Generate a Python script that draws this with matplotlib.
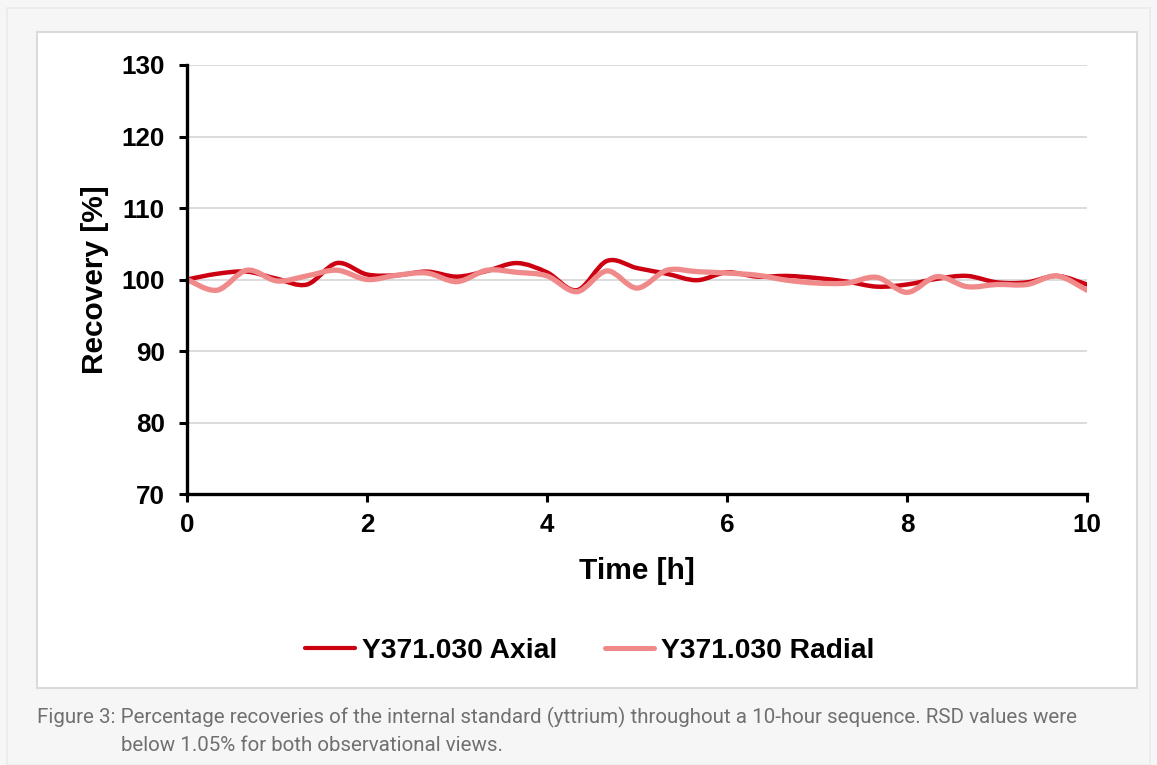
import numpy as np
import matplotlib
matplotlib.use("Agg")
import matplotlib.pyplot as plt
from matplotlib.path import Path
from matplotlib.patches import PathPatch, Rectangle
from matplotlib.lines import Line2D

# ---- data ----
time_h = [0, 1/3, 2/3, 1, 4/3, 5/3, 2, 7/3, 8/3, 3, 10/3, 11/3, 4, 13/3, 14/3, 5,
          16/3, 17/3, 6, 19/3, 20/3, 7, 22/3, 23/3, 8, 25/3, 26/3, 9, 28/3, 29/3, 10]
axial = [100.0, 100.8, 101.1, 100.1, 99.3, 102.3, 100.7, 100.6, 101.1, 100.4, 101.2,
         102.3, 101.0, 98.5, 102.6, 101.6, 100.8, 99.9, 101.0, 100.4, 100.5, 100.2,
         99.7, 99.0, 99.3, 100.1, 100.5, 99.6, 99.6, 100.5, 99.3]
radial = [100.0, 98.5, 101.3, 99.8, 100.5, 101.3, 100.0, 100.6, 100.9, 99.7, 101.3,
          101.0, 100.5, 98.3, 101.2, 98.8, 101.3, 101.1, 100.9, 100.6, 99.9, 99.5,
          99.5, 100.3, 98.2, 100.4, 99.0, 99.3, 99.3, 100.5, 98.5]
series_names = ["Y371.030 Axial", "Y371.030 Radial"]
x_ticks = [0, 2, 4, 6, 8, 10]
y_ticks = [70, 80, 90, 100, 110, 120, 130]
caption_lines = ["Figure 3: Percentage recoveries of the internal standard (yttrium) throughout a 10-hour sequence. RSD values were",
                 "below 1.05% for both observational views."]

AX_COL = "#cc0011"
RAD_COL = "#f08a8a"


def smooth_path(x, y):
    """Excel-like smoothed line: cubic Bezier segments through the data points."""
    x = np.asarray(x, float)
    y = np.asarray(y, float)
    n = len(x)
    verts = [(x[0], y[0])]
    codes = [Path.MOVETO]
    for i in range(n - 1):
        p0 = np.array([x[max(i - 1, 0)], y[max(i - 1, 0)]])
        p1 = np.array([x[i], y[i]])
        p2 = np.array([x[i + 1], y[i + 1]])
        p3 = np.array([x[min(i + 2, n - 1)], y[min(i + 2, n - 1)]])
        c1 = p1 + (p2 - p0) / 6.0
        c2 = p2 - (p3 - p1) / 6.0
        verts += [tuple(c1), tuple(c2), tuple(p2)]
        codes += [Path.CURVE4] * 3
    return Path(verts, codes)


W, H = 1157, 765
fig = plt.figure(figsize=(W / 100, H / 100), dpi=100)
fig.patch.set_facecolor("#f6f6f6")

# outer and inner boxes
fig.patches.append(Rectangle((7 / W, 0), 1143 / W, 1 - 8 / H, transform=fig.transFigure,
                             facecolor="#f6f6f6", edgecolor="#ebebeb", lw=1.2, zorder=-10))
fig.patches.append(Rectangle((37 / W, 1 - 688 / H), 1100 / W, 656 / H, transform=fig.transFigure,
                             facecolor="white", edgecolor="#dadada", lw=1.5, zorder=-9))

ax = fig.add_axes([187 / W, 1 - 494 / H, 900 / W, 429 / H])
ax.set_zorder(2)
ax.set_facecolor("none")
ax.set_xlim(0, 10)
ax.set_ylim(70, 130)
ax.set_xticks(x_ticks)
ax.set_yticks(y_ticks)
ax.set_xticklabels([str(v) for v in x_ticks])
ax.set_yticklabels([str(v) for v in y_ticks])

for v in y_ticks[1:]:
    ax.axhline(v, color="#d9d9d9", lw=1.3, zorder=1)

for s in ["top", "right"]:
    ax.spines[s].set_visible(False)
for s in ["left", "bottom"]:
    ax.spines[s].set_linewidth(2.4)
    ax.spines[s].set_color("black")
    ax.spines[s].set_zorder(4)

font = "Liberation Sans"
ax.tick_params(axis="both", direction="out", length=6, width=2.2, color="black")
ax.tick_params(axis="y", pad=10)
ax.tick_params(axis="x", pad=8)
for lab in ax.get_xticklabels() + ax.get_yticklabels():
    lab.set_fontfamily(font)
    lab.set_fontweight("bold")
    lab.set_fontsize(18.7)

ax.add_patch(PathPatch(smooth_path(time_h, axial), facecolor="none", edgecolor=AX_COL,
                       lw=3.2, zorder=3, capstyle="round", joinstyle="round"))
ax.add_patch(PathPatch(smooth_path(time_h, radial), facecolor="none", edgecolor=RAD_COL,
                       lw=3.8, zorder=3.1, capstyle="round", joinstyle="round"))

ax.set_xlabel("Time [h]", fontfamily=font, fontweight="bold", fontsize=21.5, labelpad=14)
ax.set_ylabel("Recovery [%]", fontfamily=font, fontweight="bold", fontsize=21.5, labelpad=9)

handles = [Line2D([], [], color=AX_COL, lw=3.0, solid_capstyle="round"),
           Line2D([], [], color=RAD_COL, lw=3.6, solid_capstyle="round")]
fig.legend(handles, series_names, loc="center", bbox_to_anchor=(590 / W, 1 - 651 / H),
           ncol=2, frameon=False, handlelength=1.75, handletextpad=0.25, columnspacing=1.7,
           prop={"family": font, "weight": "bold", "size": 20.3})

fig.text(37 / W, 1 - 723 / H, caption_lines[0], fontfamily="Roboto", fontsize=14.8,
         color="#707070", va="baseline", ha="left")
fig.text(121 / W, 1 - 751 / H, caption_lines[1], fontfamily="Roboto", fontsize=14.8,
         color="#707070", va="baseline", ha="left")

fig.savefig("out.png", dpi=100, facecolor=fig.get_facecolor())
